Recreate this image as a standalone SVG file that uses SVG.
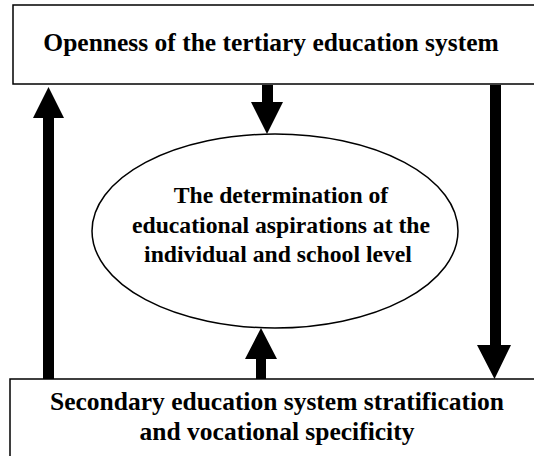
<svg xmlns="http://www.w3.org/2000/svg" width="534" height="456" viewBox="0 0 534 456">
<style>
.box{fill:#fff;stroke:#000;stroke-width:1.5}
.lbl{font-family:"Liberation Serif","Times New Roman",serif;font-weight:bold;font-size:25.5px;fill:#000;text-anchor:middle}
.el{font-size:23.7px}
.arr{fill:#000;stroke:none}
</style>
<rect width="534" height="456" fill="#fff"/>
<g id="top">
<rect class="box" x="13" y="5" width="530" height="79"/>
<text class="lbl" x="271" y="51">Openness of the tertiary education system</text>
</g>
<g id="bottom">
<rect class="box" x="10" y="379" width="540" height="90"/>
<text class="lbl" x="277" y="410">Secondary education system stratification</text>
<text class="lbl" x="277" y="440">and vocational specificity</text>
</g>
<g id="center">
<ellipse class="box" cx="275" cy="231" rx="183" ry="97"/>
<text class="lbl el" x="281" y="203">The determination of</text>
<text class="lbl el" x="281" y="233">educational aspirations at the</text>
<text class="lbl el" x="278" y="262">individual and school level</text>
</g>
<g id="connectors">
<polygon class="arr" points="262,85 273,85 273,102 283,102 267,134 251,102 262,102"/>
<polygon class="arr" points="256,379 266,379 266,359 277,359 261,328 245,359 256,359"/>
<polygon class="arr" points="43,379 54,379 54,118 64,118 48.5,87 33,118 43,118"/>
<polygon class="arr" points="490,85 501,85 501,345 511,345 494.5,379 477,345 490,345"/>
</g>
</svg>
